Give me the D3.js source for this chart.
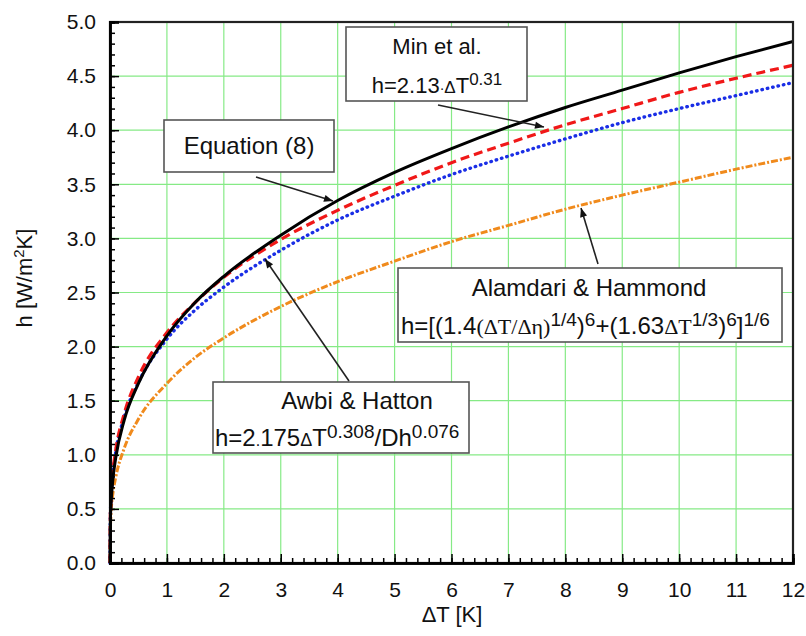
<!DOCTYPE html>
<html>
<meta charset="utf-8">
<head>
	<title>h vs dT</title>
	<script src="https://d3js.org/d3.v7.min.js"></script>
</head>
<body style="margin:0;background:#fff">
<svg id="chart" width="806" height="636"></svg>

<script>
	// values
	var dT      = [0, 0.005, 0.01, 0.02, 0.05, 0.1, 0.25, 0.5, 1, 1.5, 2, 3, 4, 5, 6, 7, 8, 9, 10, 11, 12];
	var eq8     = [0, 0.33, 0.45, 0.56, 0.77, 0.97, 1.32, 1.66, 2.10, 2.41, 2.65, 3.03, 3.35, 3.61, 3.83, 4.03, 4.21, 4.37, 4.53, 4.68, 4.82];
	var minEtAl = [0, 0.41, 0.51, 0.63, 0.84, 1.04, 1.38, 1.72, 2.13, 2.41, 2.64, 2.99, 3.26, 3.49, 3.70, 3.88, 4.05, 4.20, 4.35, 4.48, 4.60];
	var awbi    = [0, 0.40, 0.50, 0.62, 0.82, 1.02, 1.35, 1.67, 2.07, 2.34, 2.55, 2.89, 3.17, 3.39, 3.59, 3.76, 3.92, 4.07, 4.20, 4.32, 4.44];
	var alamdari= [0, 0.28, 0.37, 0.48, 0.64, 0.79, 1.06, 1.33, 1.66, 1.90, 2.08, 2.37, 2.60, 2.79, 2.97, 3.12, 3.27, 3.40, 3.52, 3.64, 3.75];
	var xTicks  = [0, 1, 2, 3, 4, 5, 6, 7, 8, 9, 10, 11, 12];
	var yTicks  = [0, 0.5, 1, 1.5, 2, 2.5, 3, 3.5, 4, 4.5, 5];

	var svg = d3.select("#chart");
	var pL = 110, pR = 793, pT = 22, pB = 563;

	var x = d3.scaleLinear().domain([0, 12]).range([pL, pR]);
	var y = d3.scaleLinear().domain([0, 5]).range([pB, pT]);

	// grid
	svg.append("g").selectAll("line").data(xTicks.slice(1, -1)).enter()
		.append("line")
		.attr("x1", function (d) { return x(d); }).attr("x2", function (d) { return x(d); })
		.attr("y1", pT).attr("y2", pB)
		.attr("stroke", "#86ea86").attr("stroke-width", 1.2);
	svg.append("g").selectAll("line").data(yTicks.slice(1, -1)).enter()
		.append("line")
		.attr("y1", function (d) { return y(d); }).attr("y2", function (d) { return y(d); })
		.attr("x1", pL).attr("x2", pR)
		.attr("stroke", "#86ea86").attr("stroke-width", 1.2);

	// curves
	var line = d3.line()
		.x(function (d) { return x(d[0]); })
		.y(function (d) { return y(d[1]); })
		.curve(d3.curveMonotoneX);

	function series(vals) {
		return dT.map(function (t, i) { return [t, vals[i]]; });
	}

	svg.append("path").attr("d", line(series(alamdari)))
		.attr("fill", "none").attr("stroke", "#f08a1c").attr("stroke-width", 3)
		.attr("stroke-dasharray", "7,2,2,2");
	svg.append("path").attr("d", line(series(awbi)))
		.attr("fill", "none").attr("stroke", "#1a2ee6").attr("stroke-width", 3.4)
		.attr("stroke-linecap", "round")
		.attr("stroke-dasharray", "0.5,5");
	svg.append("path").attr("d", line(series(minEtAl)))
		.attr("fill", "none").attr("stroke", "#f01818").attr("stroke-width", 3.2)
		.attr("stroke-dasharray", "9,5");
	svg.append("path").attr("d", line(series(eq8)))
		.attr("fill", "none").attr("stroke", "#000").attr("stroke-width", 3);

	// frame
	svg.append("rect").attr("x", pL).attr("y", pT)
		.attr("width", pR - pL).attr("height", pB - pT)
		.attr("fill", "none").attr("stroke", "#222").attr("stroke-width", 2.2);

	// axes
	var font = "Liberation Sans, Arial, sans-serif";
	var xAxis = d3.axisBottom(x).tickValues(xTicks).tickSize(-9).tickPadding(19)
		.tickFormat(d3.format("d"));
	var xMinor = d3.axisBottom(x).tickValues(d3.range(0, 12.01, 0.2)).tickSize(-5).tickFormat("");
	var yAxis = d3.axisLeft(y).tickValues(yTicks).tickSize(-9).tickPadding(14)
		.tickFormat(d3.format(".1f"));
	var yMinor = d3.axisLeft(y).tickValues(d3.range(0, 5.01, 0.1)).tickSize(-5).tickFormat("");

	[xMinor, xAxis].forEach(function (ax) {
		var g = svg.append("g").attr("transform", "translate(0," + pB + ")").call(ax);
		g.select(".domain").attr("stroke", "#000").attr("stroke-width", 2.5);
		g.selectAll(".tick line").attr("stroke", "#000").attr("stroke-width", 1.5);
		g.selectAll("text").attr("font-family", font).attr("font-size", 21).attr("fill", "#111");
	});
	[yMinor, yAxis].forEach(function (ax) {
		var g = svg.append("g").attr("transform", "translate(" + pL + ",0)").call(ax);
		g.select(".domain").attr("stroke", "#000").attr("stroke-width", 2.5);
		g.selectAll(".tick line").attr("stroke", "#000").attr("stroke-width", 1.5);
		g.selectAll("text").attr("font-family", font).attr("font-size", 21).attr("fill", "#111");
	});

	// axis labels
	svg.append("text").attr("x", 452).attr("y", 622).attr("text-anchor", "middle")
		.attr("font-family", font).attr("font-size", 22).attr("fill", "#111")
		.text("\u0394T [K]");
	var yl = svg.append("text").attr("transform", "translate(32,278) rotate(-90)")
		.attr("text-anchor", "middle")
		.attr("font-family", font).attr("font-size", 22).attr("fill", "#111");
	yl.append("tspan").text("h [W/m");
	yl.append("tspan").attr("font-size", 15).attr("dy", -8).text("2");
	yl.append("tspan").attr("dy", 8).text("K]");

	// annotations
	svg.append("defs").append("marker")
		.attr("id", "arrow").attr("viewBox", "0 0 10 10").attr("refX", 10).attr("refY", 5)
		.attr("markerWidth", 10).attr("markerHeight", 9).attr("markerUnits", "userSpaceOnUse")
		.attr("orient", "auto")
		.append("path").attr("d", "M0,1 L10,5 L0,9 Z").attr("fill", "#111");

	function box(x0, y0, w, h) {
		svg.append("rect").attr("x", x0).attr("y", y0).attr("width", w).attr("height", h)
			.attr("fill", "#fff").attr("stroke", "#555").attr("stroke-width", 1.6);
	}
	function arrow(x1, y1, x2, y2) {
		svg.append("line").attr("x1", x1).attr("y1", y1).attr("x2", x2).attr("y2", y2)
			.attr("stroke", "#222").attr("stroke-width", 1.6).attr("marker-end", "url(#arrow)");
	}
	function label(tx, ty, anchor, size, parts) {
		var t = svg.append("text").attr("x", tx).attr("y", ty).attr("text-anchor", anchor)
			.attr("font-family", font).attr("font-size", size).attr("fill", "#111");
		var lift = 0;
		parts.forEach(function (p) {
			var s = t.append("tspan").text(p.t);
			var want = p.sup ? -8 : 0;
			if (want !== lift) { s.attr("dy", want - lift); lift = want; }
			if (p.sup) s.attr("font-size", size - 5);
			if (p.serif) s.attr("font-family", "Liberation Serif, Times New Roman, serif");
			if (p.size) s.attr("font-size", p.size);
		});
		return t;
	}

	// Min et al.
	box(346, 27, 181, 74);
	label(437, 54, "middle", 22, [{t: "Min et al."}]);
	label(437, 93, "middle", 22, [{t: "h=2.13"}, {t: "\u00b7", size: 14}, {t: "\u0394", size: 17}, {t: "T"}, {t: "0.31", sup: true}]);
	arrow(438, 105, 544, 127);

	// Equation (8)
	box(164, 120, 170, 52);
	label(249, 154, "middle", 24, [{t: "Equation (8)"}]);
	arrow(256, 177, 333, 201);

	// Alamdari & Hammond
	box(398, 268, 384, 74);
	label(589, 296, "middle", 24, [{t: "Alamdari & Hammond"}]);
	label(401, 334, "start", 24, [
		{t: "h=[(1.4"}, {t: "(\u0394T/\u0394\u03b7)", serif: true, size: 22}, {t: "1/4", sup: true},
		{t: ")"}, {t: "6", sup: true}, {t: "+(1.63"}, {t: "\u0394T", serif: true, size: 22},
		{t: "1/3", sup: true}, {t: ")"}, {t: "6", sup: true}, {t: "]"}, {t: "1/6", sup: true}
	]);
	arrow(598, 264, 581, 208);

	// Awbi & Hatton
	box(213, 382, 256, 71);
	label(357, 409, "middle", 24, [{t: "Awbi & Hatton"}]);
	label(215, 446, "start", 24, [
		{t: "h=2"}, {t: ".", size: 16}, {t: "175"}, {t: "\u0394", size: 18}, {t: "T"}, {t: "0.308", sup: true},
		{t: "/Dh"}, {t: "0.076", sup: true}
	]);
	arrow(349, 381, 265, 259);
</script>
</body>
</html>
